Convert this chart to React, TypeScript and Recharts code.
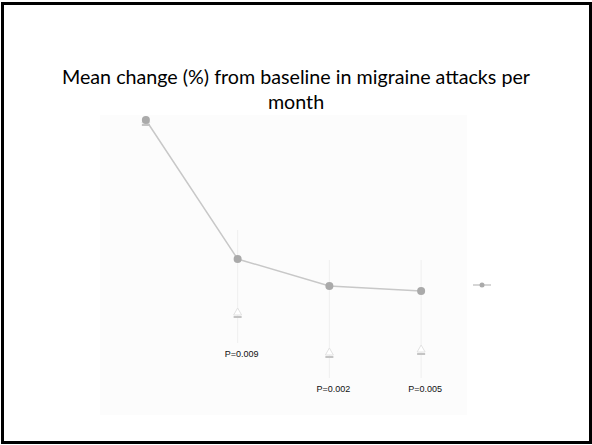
import React from 'react';
import { ComposedChart, Line, Scatter, XAxis, YAxis, ErrorBar, CartesianGrid, Legend } from 'recharts';

const timepoints = [0, 1, 2, 3];
const meanChange = [0, -27.8, -33.2, -34.2];
const lowerMarker = [-1, -39.4, -47.4, -46.8];
const errorLow = [0, 16.8, 18.4, 17.4];
const errorHigh = [0, 5.8, 5.2, 6.2];
const pValues = ['', 'P=0.009', 'P=0.002', 'P=0.005'];

const data = timepoints.map((t, i) => ({
  t,
  mean: meanChange[i],
  marker: lowerMarker[i],
  err: [errorLow[i], errorHigh[i]],
  pBottom: meanChange[i] - errorLow[i],
  p: pValues[i],
}));

const TriangleShape = (props: any) => {
  const { cx, cy } = props;
  if (cx == null || cy == null) return null;
  return (
    <g>
      <path d={`M${cx - 4},${cy - 2} L${cx},${cy - 9} L${cx + 4},${cy - 2} Z`} fill="#fff" stroke="#e2e2e2" strokeWidth={1} />
      <line x1={cx - 4} x2={cx + 4} y1={cy} y2={cy} stroke="#c4c4c4" strokeWidth={2} />
    </g>
  );
};

const PLabelShape = (props: any) => {
  const { cx, cy, payload } = props;
  if (!payload || !payload.p) return <g />;
  return (
    <text x={cx + 4} y={cy + 14} textAnchor="middle" fontFamily="Liberation Sans, Arial, sans-serif" fontSize={9} fill="#111">
      {payload.p}
    </text>
  );
};

const LegendMarker = () => (
  <svg width={18} height={8} style={{ display: 'block' }}>
    <line x1={0} x2={18} y1={4} y2={4} stroke="#c8c8c8" strokeWidth={1.5} />
    <circle cx={9} cy={4} r={2.5} fill="#aaaaaa" />
  </svg>
);

export default function App() {
  return (
    <div style={{ position: 'absolute', left: 0, top: 0, width: 592, height: 445, background: '#fff' }}>
      <div
        style={{
          position: 'absolute',
          left: 1,
          top: 2,
          width: 591,
          height: 442,
          border: '3px solid #000',
          boxSizing: 'border-box',
        }}
      />
      <div
        style={{
          position: 'absolute',
          left: 46,
          top: 64,
          width: 500,
          textAlign: 'center',
          fontFamily: 'Lato, sans-serif',
          fontSize: 19.7,
          lineHeight: '25px',
          color: '#000',
        }}
      >
        Mean change (%) from baseline in migraine attacks per month
      </div>
      <div style={{ position: 'absolute', left: 0, top: 0 }}>
        <ComposedChart width={592} height={445} data={data} margin={{ top: 115, right: 125, bottom: 30, left: 100 }}>
          <CartesianGrid fill="#fcfcfc" horizontal={false} vertical={false} />
          <XAxis dataKey="t" type="number" domain={[-0.5, 3.5]} hide />
          <YAxis type="number" domain={[-59, 1]} allowDataOverflow hide />
          <Scatter dataKey="marker" shape={TriangleShape} isAnimationActive={false} legendType="none" />
          <Scatter dataKey="pBottom" shape={PLabelShape} isAnimationActive={false} legendType="none" />
          <Line
            dataKey="mean"
            stroke="#c8c8c8"
            strokeWidth={1.5}
            dot={{ r: 4, fill: '#aaaaaa', stroke: 'none' }}
            isAnimationActive={false}
          >
            <ErrorBar dataKey="err" width={0} stroke="#efefef" strokeWidth={1} direction="y" />
          </Line>
          <Legend
            layout="horizontal"
            align="center"
            verticalAlign="middle"
            content={() => <LegendMarker />}
            wrapperStyle={{ position: 'absolute', left: 473, top: 281, width: 18, height: 8 }}
          />
        </ComposedChart>
      </div>
    </div>
  );
}
